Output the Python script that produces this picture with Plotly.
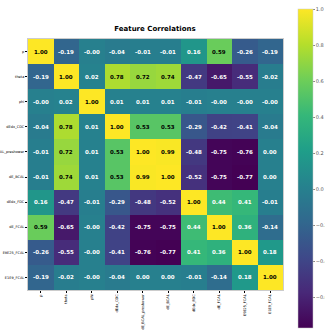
import plotly.graph_objects as go

features = ["p", "theta", "phi", "dEdx_CDC", "dE_BCAL_preshower", "dE_BCAL",
            "dEdx_FDC", "dE_FCAL", "E9E25_FCAL", "E1E9_FCAL"]

row_p          = ["1.00", "-0.19", "-0.00", "-0.04", "-0.01", "-0.01", "0.16", "0.59", "-0.26", "-0.19"]
row_theta      = ["-0.19", "1.00", "0.02", "0.78", "0.72", "0.74", "-0.47", "-0.65", "-0.55", "-0.02"]
row_phi        = ["-0.00", "0.02", "1.00", "0.01", "0.01", "0.01", "-0.01", "-0.00", "-0.00", "-0.00"]
row_dEdx_CDC   = ["-0.04", "0.78", "0.01", "1.00", "0.53", "0.53", "-0.29", "-0.42", "-0.41", "-0.04"]
row_dE_pre     = ["-0.01", "0.72", "0.01", "0.53", "1.00", "0.99", "-0.48", "-0.75", "-0.76", "0.00"]
row_dE_BCAL    = ["-0.01", "0.74", "0.01", "0.53", "0.99", "1.00", "-0.52", "-0.75", "-0.77", "0.00"]
row_dEdx_FDC   = ["0.16", "-0.47", "-0.01", "-0.29", "-0.48", "-0.52", "1.00", "0.44", "0.41", "-0.01"]
row_dE_FCAL    = ["0.59", "-0.65", "-0.00", "-0.42", "-0.75", "-0.75", "0.44", "1.00", "0.36", "-0.14"]
row_E9E25      = ["-0.26", "-0.55", "-0.00", "-0.41", "-0.76", "-0.77", "0.41", "0.36", "1.00", "0.18"]
row_E1E9       = ["-0.19", "-0.02", "-0.00", "-0.04", "0.00", "0.00", "-0.01", "-0.14", "0.18", "1.00"]

rows = [row_p, row_theta, row_phi, row_dEdx_CDC, row_dE_pre, row_dE_BCAL,
        row_dEdx_FDC, row_dE_FCAL, row_E9E25, row_E1E9]
z = [[float(v) for v in r] for r in rows]
zmin = min(min(r) for r in z)
zmax = 1.0

fig = go.Figure(go.Heatmap(
    z=z, x=features, y=features,
    colorscale="Viridis", zmin=zmin, zmax=zmax,
    showscale=True,
    colorbar=dict(
        thickness=15, lenmode="pixels", len=319, xpad=0, ypad=0,
        x=1.059, xanchor="left", y=0.484, yanchor="middle",
        outlinewidth=0.5, outlinecolor="#cccccc",
        tickvals=[1.0, 0.8, 0.6, 0.4, 0.2, 0.0, -0.2, -0.4, -0.6],
        ticktext=["1.0", "0.8", "0.6", "0.4", "0.2", "0.0", "\u22120.2", "\u22120.4", "\u22120.6"],
        tickfont=dict(size=5, color="#555555", family="DejaVu Sans"),
        ticks="outside", ticklen=2, tickcolor="#888888",
    ),
    hoverinfo="skip",
))

annotations = []
for i, r in enumerate(rows):
    for j, v in enumerate(r):
        val = float(v)
        color = "black" if val > 0.5 else "white"
        annotations.append(dict(
            x=features[j], y=features[i], text="<b>" + v + "</b>", showarrow=False,
            font=dict(size=5.5, color=color, family="DejaVu Sans"),
        ))

fig.update_layout(
    width=325, height=331,
    margin=dict(l=28, r=42, t=39, b=41, autoexpand=False),
    paper_bgcolor="white", plot_bgcolor="white",
    title=dict(text="<b>Feature Correlations</b>", x=155 / 325, xanchor="center",
               y=1 - 29 / 331, yanchor="middle",
               font=dict(size=7, color="black", family="DejaVu Sans")),
    annotations=annotations,
    xaxis=dict(tickangle=-90, tickfont=dict(size=3.5, color="black", family="DejaVu Sans"),
               ticks="outside", ticklen=2, tickcolor="black", showgrid=False, automargin=False,
               showline=True, linecolor="#cccccc", mirror=True),
    yaxis=dict(autorange="reversed", tickfont=dict(size=3.5, color="black", family="DejaVu Sans"),
               ticks="outside", ticklen=2, tickcolor="black", showgrid=False, automargin=False,
               showline=True, linecolor="#cccccc", mirror=True),
)

fig.write_html("out.html", config={"displayModeBar": False, "staticPlot": True},
               post_script="document.body.style.margin='0px';document.body.style.overflow='hidden';")
